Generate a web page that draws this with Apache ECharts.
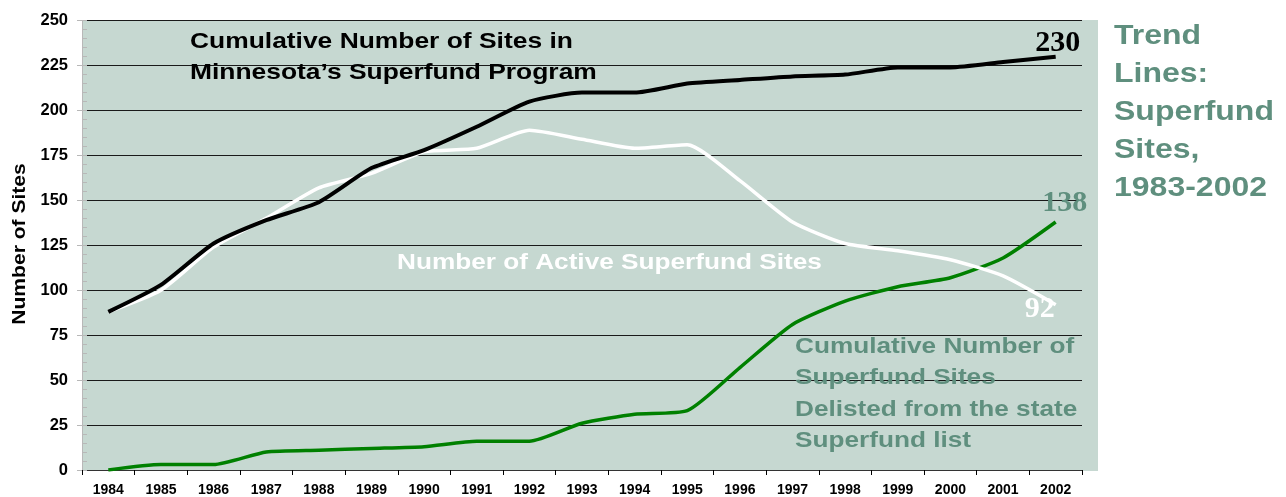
<!DOCTYPE html>
<html>
<head>
<meta charset="utf-8">
<script src="https://cdn.jsdelivr.net/npm/echarts@6/dist/echarts.min.js"></script>
<style>html,body{margin:0;padding:0;background:#fff;}#c{width:1286px;height:497px;}</style>
</head>
<body>
<div id="c"></div>
<script>
var years = ['1984','1985','1986','1987','1988','1989','1990','1991','1992','1993','1994','1995','1996','1997','1998','1999','2000','2001','2002'];
var cumulativeSites = [88,103,126,139,149,168,178,191,205,210,210,215,217,219,220,224,224,227,230];
var activeSites = [88,100,124,140,157,165,177,179,189,184,179,181,161,138,126,122,117,108,92];
var delistedSites = [0,3,3,10,11,12,13,16,16,26,31,33,57,81,94,102,107,118,138];
var yTicks = [0,25,50,75,100,125,150,175,200,225,250];

var TEAL = '#5f8f7e';
var SANS = '"Liberation Sans", Arial, sans-serif';
var SERIF = '"Liberation Serif", "Times New Roman", serif';

function withEndLabel(arr, label) {
  return arr.map(function (v, i) {
    if (i === arr.length - 1) return { value: v, label: label };
    return v;
  });
}

var chart = echarts.init(document.getElementById('c'), null, { renderer: 'canvas' });
var option = {
  animation: false,
  backgroundColor: '#ffffff',
  grid: { left: 82, right: 204, top: 20.7, height: 450, containLabel: false },
  graphic: [
    { type: 'rect', z: -10, silent: true, shape: { x: 82, y: 20, width: 1016, height: 451 }, style: { fill: '#c6d8d1' } },
    { type: 'text', z: 10, x: 190, y: 26, scaleX: 1.2, style: { text: 'Cumulative Number of Sites in\nMinnesota\u2019s Superfund Program', font: 'bold 22px ' + SANS, fill: '#000', lineHeight: 31 } },
    { type: 'text', z: 10, x: 397, y: 252, scaleX: 1.19, style: { text: 'Number of Active Superfund Sites', font: 'bold 22px ' + SANS, fill: '#ffffff' } },
    { type: 'text', z: 10, x: 795, y: 331, scaleX: 1.19, style: { text: 'Cumulative Number of\nSuperfund Sites\nDelisted from the state\nSuperfund list', font: 'bold 22px ' + SANS, fill: TEAL, lineHeight: 31.5 } },
    { type: 'text', z: 10, x: 1114, y: 18, scaleX: 1.185, style: { text: 'Trend\nLines:\nSuperfund\nSites,\n1983-2002', font: 'bold 27px ' + SANS, fill: TEAL, lineHeight: 38 } },
    { type: 'text', z: 10, x: 20, y: 244, rotation: Math.PI / 2, scaleX: 1.17, style: { text: 'Number of Sites', font: 'bold 18px ' + SANS, fill: '#000', align: 'center', verticalAlign: 'middle' } }
  ],
  xAxis: {
    type: 'category',
    data: years,
    boundaryGap: true,
    axisLine: { lineStyle: { color: '#333', width: 1 } },
    axisTick: { show: true, alignWithLabel: false, length: 5, lineStyle: { color: '#000' } },
    axisLabel: { color: '#000', fontFamily: SANS, fontWeight: 'bold', fontSize: 14, margin: 13 },
    splitLine: { show: false }
  },
  yAxis: [
    {
      type: 'value', min: 0, max: 250, interval: 25,
      axisLine: { show: true, lineStyle: { color: '#b8b8b8' } },
      axisTick: { show: true, length: 5, lineStyle: { color: '#b8b8b8' } },
      axisLabel: { color: '#000', fontFamily: SANS, fontWeight: 'bold', fontSize: 16.5, margin: 14,
        formatter: function (v) { return yTicks.indexOf(v) >= 0 ? String(v) : ''; } },
      splitLine: { show: true, lineStyle: { color: '#1a1a1a', width: 1 } }
    },
    {
      type: 'value', min: 0, max: 250, interval: 5, position: 'left',
      axisLine: { show: false },
      axisTick: { show: true, inside: true, length: 5, lineStyle: { color: '#b8b8b8' } },
      axisLabel: { show: false },
      splitLine: { show: false }
    }
  ],
  series: [
    {
      name: 'Delisted', type: 'line', yAxisIndex: 0, z: 3,
      data: withEndLabel(delistedSites, { show: true, position: 'top', distance: 0, offset: [9, -4], formatter: '138', fontFamily: SERIF, fontWeight: 'bold', fontSize: 30, color: TEAL }),
      symbol: 'circle', symbolSize: 0, showSymbol: true, smooth: 0.2,
      lineStyle: { color: '#008000', width: 3.5 }, itemStyle: { color: '#008000' }
    },
    {
      name: 'Active', type: 'line', yAxisIndex: 0, z: 4,
      data: withEndLabel(activeSites, { show: true, position: 'top', distance: 0, offset: [-16, 20], formatter: '92', fontFamily: SERIF, fontWeight: 'bold', fontSize: 30, color: '#ffffff' }),
      symbol: 'circle', symbolSize: 0, showSymbol: true, smooth: 0.2,
      lineStyle: { color: '#ffffff', width: 3.5 }, itemStyle: { color: '#ffffff' }
    },
    {
      name: 'Cumulative', type: 'line', yAxisIndex: 0, z: 5,
      data: withEndLabel(cumulativeSites, { show: true, position: 'top', distance: 0, offset: [2, 2], formatter: '230', fontFamily: SERIF, fontWeight: 'bold', fontSize: 30, color: '#000' }),
      symbol: 'circle', symbolSize: 0, showSymbol: true, smooth: 0.2,
      lineStyle: { color: '#000000', width: 4 }, itemStyle: { color: '#000' }
    }
  ]
};
chart.setOption(option);
</script>
</body>
</html>
